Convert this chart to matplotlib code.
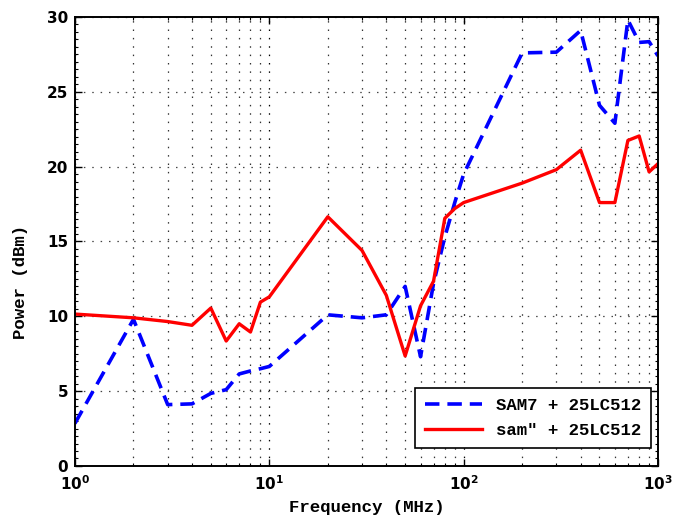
import math
import matplotlib
matplotlib.use("Agg")
import matplotlib.pyplot as plt
from matplotlib.ticker import FuncFormatter, LogLocator, MultipleLocator, NullFormatter

# Frequency sweep points (MHz)
freq = [1, 2, 3, 4, 5, 6, 7, 8, 9, 10, 20, 30, 40, 50, 60, 70, 80, 90,
        100, 200, 300, 400, 500, 600, 700, 800, 900, 1000]

# Measured power (dBm)
sam7_power = [2.85, 9.8, 4.1, 4.15, 4.85, 5.1, 6.15, 6.35, 6.5, 6.65,
              10.1, 9.9, 10.1, 12.0, 7.3, 12.2, 15.3, 17.6,
              19.5, 27.6, 27.65, 29.1, 24.1, 22.9, 29.8, 28.3, 28.35, 27.4]
samq_power = [10.15, 9.9, 9.65, 9.4, 10.55, 8.35, 9.5, 8.95, 10.95, 11.3,
              16.65, 14.4, 11.4, 7.35, 10.7, 12.35, 16.55, 17.2,
              17.6, 18.9, 19.8, 21.1, 17.6, 17.6, 21.75, 22.05, 19.65, 20.2]

series_labels = ['SAM7 + 25LC512', 'sam" + 25LC512']
x_label = 'Frequency (MHz)'
y_label = 'Power (dBm)'

mono = 'Liberation Mono'
plt.rcParams['mathtext.fontset'] = 'dejavusans'

fig = plt.figure(figsize=(6.73, 5.21), dpi=100)
ax = fig.add_axes([0.1114, 0.1056, 0.9777 - 0.1114, 0.9674 - 0.1056])

ax.plot(freq, sam7_power, color='#0000ff', lw=2.6, ls=(0, (4, 2.2)),
        label=series_labels[0])
ax.plot(freq, samq_power, color='#ff0000', lw=2.4, ls='-',
        label=series_labels[1])

ax.set_xscale('log')
ax.set_xlim(1, 1000)
ax.set_ylim(0, 30)

ax.xaxis.set_major_locator(LogLocator(base=10, numticks=10))
ax.xaxis.set_minor_locator(LogLocator(base=10, subs=range(2, 10), numticks=20))
ax.xaxis.set_minor_formatter(NullFormatter())
ax.xaxis.set_major_formatter(
    FuncFormatter(lambda v, p: r'$\mathbf{10^{%d}}$' % round(math.log10(v))))
ax.yaxis.set_major_locator(MultipleLocator(5))
ax.yaxis.set_minor_locator(MultipleLocator(0.5))
ax.yaxis.set_major_formatter(FuncFormatter(lambda v, p: '%d' % v))

dots = (0, (1.2, 5.5))
ax.grid(True, which='major', axis='x', ls=dots, color='black', lw=0.9)
ax.grid(True, which='major', axis='y', ls=dots, color='#444444', lw=0.9)
ax.grid(True, which='minor', axis='x', ls=dots, color='#333333', lw=0.9)
ax.set_axisbelow(True)

ax.tick_params(which='both', direction='in', top=True, right=True)
ax.tick_params(which='major', length=5, width=1.0, labelsize=11)
ax.tick_params(axis='x', which='major', pad=6)
ax.tick_params(axis='y', which='major', pad=5)
ax.tick_params(which='minor', length=2.5, width=0.8)
for lab in ax.get_xticklabels() + ax.get_yticklabels():
    lab.set_fontweight('bold')
    lab.set_fontsize(11)

for s in ax.spines.values():
    s.set_linewidth(1.4)

ax.set_xlabel(x_label, fontfamily=mono, fontweight='bold', fontsize=12.5, labelpad=5)
ax.set_ylabel(y_label, fontfamily=mono, fontweight='bold', fontsize=12.5)
ax.yaxis.set_label_coords(-0.08, 0.41)

leg = ax.legend(loc='lower right', prop={'family': mono, 'weight': 'bold', 'size': 12.5},
                fancybox=False, edgecolor='black', framealpha=1,
                handlelength=3.3, borderaxespad=0.0, bbox_to_anchor=(0.988, 0.04),
                borderpad=0.55, labelspacing=0.6)
leg.get_frame().set_linewidth(1.2)

fig.savefig('out.png', dpi=100)
